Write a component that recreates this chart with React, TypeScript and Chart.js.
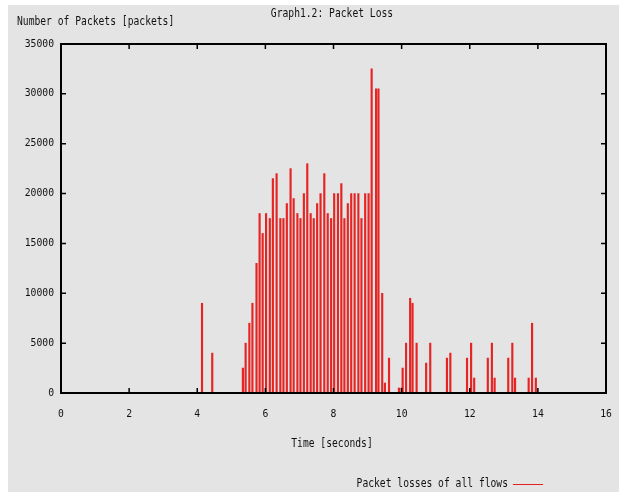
import React, { useEffect, useRef } from "react";
import { Chart, registerables } from "chart.js";

Chart.register(...registerables);

// Time of each loss impulse (seconds)
const times = [
  4.14, 4.44, 5.34, 5.42, 5.53, 5.62, 5.74, 5.83, 5.92, 6.02, 6.13, 6.22, 6.33,
  6.44, 6.53, 6.63, 6.74, 6.83, 6.94, 7.03, 7.13, 7.23, 7.33, 7.42, 7.52, 7.62,
  7.73, 7.83, 7.93, 8.02, 8.13, 8.23, 8.32, 8.42, 8.52, 8.62, 8.73, 8.82, 8.93,
  9.03, 9.12, 9.25, 9.32, 9.43, 9.51, 9.63, 9.92, 10.0, 10.03, 10.13, 10.25,
  10.32, 10.44, 10.72, 10.84, 11.33, 11.43, 11.92, 12.04, 12.13, 12.53, 12.65,
  12.73, 13.13, 13.25, 13.33, 13.73, 13.83, 13.94,
];

// Number of lost packets at each time
const losses = [
  9000, 4000, 2500, 5000, 7000, 9000, 13000, 18000, 16000, 18000, 17500, 21500,
  22000, 17500, 17500, 19000, 22500, 19500, 18000, 17500, 20000, 23000, 18000,
  17500, 19000, 20000, 22000, 18000, 17500, 20000, 20000, 21000, 17500, 19000,
  20000, 20000, 20000, 17500, 20000, 20000, 32500, 30500, 30500, 10000, 1000,
  3500, 500, 500, 2500, 5000, 9500, 9000, 5000, 3000, 5000, 3500, 4000, 3500,
  5000, 1500, 3500, 5000, 1500, 3500, 5000, 1500, 1500, 7000, 1500,
];

const chartTitle = "Graph1.2: Packet Loss";
const yAxisTitle = "Number of Packets [packets]";
const xAxisTitle = "Time [seconds]";
const seriesName = "Packet losses of all flows";

const X_MIN = 0;
const X_MAX = 16;
const X_STEP = 2;
const Y_MIN = 0;
const Y_MAX = 35000;
const Y_STEP = 5000;

const FONT_FAMILY = "'DejaVu Sans Mono', monospace";
const FONT_SIZE = 9.75;

function condensedText(ctx: any, text: string, x: number, y: number, align: string) {
  const sx = 0.82;
  ctx.save();
  ctx.font = `11.8px ${FONT_FAMILY}`;
  ctx.textBaseline = "middle";
  ctx.textAlign = align;
  ctx.translate(x, y);
  ctx.scale(sx, 1);
  ctx.fillText(text, 0, 0);
  ctx.restore();
}

const gnuplotPlugin = {
  id: "gnuplotDecor",
  beforeDraw(chart: any) {
    const { ctx, width, height } = chart;
    ctx.save();
    ctx.fillStyle = "#ffffff";
    ctx.fillRect(0, 0, width, height);
    ctx.fillStyle = "#e4e4e4";
    ctx.fillRect(8, 5, width - 8, height - 5);
    ctx.restore();
  },
  afterDatasetsDraw(chart: any) {
    const { ctx, chartArea } = chart;
    const xs = chart.scales.x;
    const ys = chart.scales.y;
    const { left, right, top, bottom } = chartArea;
    ctx.save();
    // frame
    ctx.strokeStyle = "#000000";
    ctx.lineWidth = 2;
    ctx.strokeRect(left, top, right - left, bottom - top);
    // inward ticks
    ctx.lineWidth = 1.5;
    const tl = 5;
    ctx.beginPath();
    xs.ticks.forEach((t: any) => {
      const px = xs.getPixelForValue(t.value);
      ctx.moveTo(px, bottom);
      ctx.lineTo(px, bottom - tl);
      ctx.moveTo(px, top);
      ctx.lineTo(px, top + tl);
    });
    ys.ticks.forEach((t: any) => {
      const py = ys.getPixelForValue(t.value);
      ctx.moveTo(left, py);
      ctx.lineTo(left + tl, py);
      ctx.moveTo(right, py);
      ctx.lineTo(right - tl, py);
    });
    ctx.stroke();

    // texts
    ctx.fillStyle = "#111111";
    condensedText(ctx, chartTitle, 332, 14, "center");
    condensedText(ctx, xAxisTitle, 332, 444, "center");
    condensedText(ctx, yAxisTitle, 17, 22, "left");
    condensedText(ctx, seriesName, 508, 484, "right");
    // legend sample line
    ctx.strokeStyle = "#e82020";
    ctx.lineWidth = 1;
    ctx.beginPath();
    ctx.moveTo(513, 484.5);
    ctx.lineTo(543, 484.5);
    ctx.stroke();
    ctx.restore();
  },
};

export default function App() {
  const canvasRef = useRef<HTMLCanvasElement | null>(null);

  useEffect(() => {
    if (!canvasRef.current) return;
    const points = times.map((t, i) => ({ x: t, y: losses[i] }));
    const chart = new Chart(canvasRef.current, {
      type: "bar",
      data: {
        datasets: [
          {
            label: seriesName,
            data: points as any,
            backgroundColor: "#e62424",
            borderWidth: 0,
            barThickness: 1.5,
          } as any,
        ],
      },
      options: {
        animation: false,
        responsive: false,
        maintainAspectRatio: false,
        devicePixelRatio: 1,
        layout: { padding: { left: 0, right: 13, top: 44, bottom: 0 } },
        plugins: {
          legend: { display: false },
          title: { display: false },
          tooltip: { enabled: false },
        },
        scales: {
          x: {
            type: "linear",
            min: X_MIN,
            max: X_MAX,
            offset: false,
            grid: { display: false, drawTicks: false },
            border: { display: false },
            ticks: {
              stepSize: X_STEP,
              padding: 16,
              color: "#111111",
              maxRotation: 0,
              font: { family: FONT_FAMILY, size: FONT_SIZE },
              callback: (v: any) => String(v),
            },
            afterFit: (scale: any) => {
              scale.height = 99;
              scale.paddingLeft = 0;
              scale.paddingRight = 0;
            },
          },
          y: {
            type: "linear",
            min: Y_MIN,
            max: Y_MAX,
            grid: { display: false, drawTicks: false },
            border: { display: false },
            ticks: {
              stepSize: Y_STEP,
              padding: 7,
              color: "#111111",
              font: { family: FONT_FAMILY, size: FONT_SIZE },
              callback: (v: any) => String(v),
            },
            afterFit: (scale: any) => {
              scale.width = 61;
              scale.paddingTop = 0;
              scale.paddingBottom = 0;
            },
          },
        },
      } as any,
      plugins: [gnuplotPlugin],
    });
    return () => chart.destroy();
  }, []);

  return (
    <div style={{ position: "fixed", left: 0, top: 0, width: 619, height: 492 }}>
      <canvas ref={canvasRef} width={619} height={492} style={{ display: "block" }} />
    </div>
  );
}
